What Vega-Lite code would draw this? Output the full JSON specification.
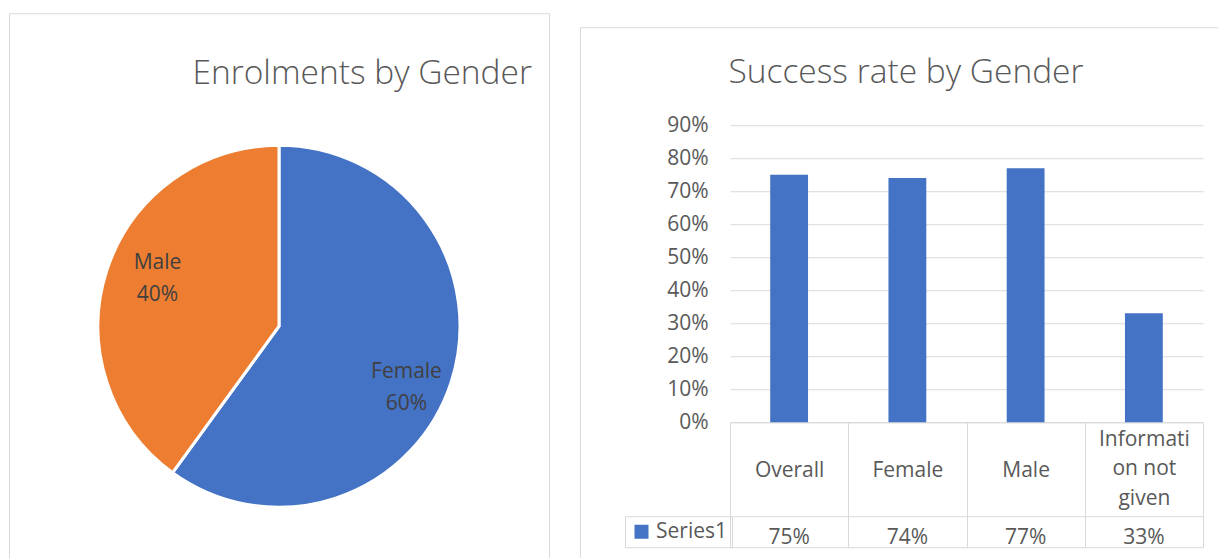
{
  "$schema": "https://vega.github.io/schema/vega-lite/v6.json",
  "padding": {"left": 8, "top": 12, "right": 0, "bottom": 0},
  "background": "white",
  "spacing": 29,
  "center": true,
  "resolve": {"scale": {"color": "independent"}, "legend": {"color": "independent"}},
  "config": {
    "font": "Open Sans",
    "view": {"stroke": "#d9d9d9", "strokeWidth": 1}
  },
  "hconcat": [
    {
      "width": 540,
      "height": 626,
      "view": {"stroke": "#d9d9d9", "strokeWidth": 1},
      "title": {"text": "Enrolments by Gender", "anchor": "end", "dx": -17, "dy": 104, "offset": 0, "baseline": "alphabetic", "fontSize": 33.5, "fontWeight": 300, "color": "#595959", "font": "Open Sans"},
      "data": {"values": [{"gender": "Female", "share": 0.6}, {"gender": "Male", "share": 0.4}]},
      "encoding": {
        "theta": {"field": "share", "type": "quantitative", "stack": true},
        "order": {"field": "gender", "type": "nominal", "sort": "ascending"}
      },
      "resolve": {"scale": {"theta": "independent"}},
      "layer": [
        {
          "mark": {"type": "arc", "outerRadius": 181, "stroke": "white", "strokeWidth": 3},
          "encoding": {
            "color": {"field": "gender", "type": "nominal", "scale": {"domain": ["Female", "Male"], "range": ["#4472C4", "#ED7D31"]}, "legend": null}
          }
        },
        {
          "mark": {"type": "text", "radius": 136, "dx": 3, "dy": -9, "fontSize": 21, "color": "#404040"},
          "encoding": {
            "theta": {"field": "share", "type": "quantitative", "stack": true, "scale": {"range": [0.1, 6.3832]}},
            "text": {"field": "gender"}
          }
        },
        {
          "mark": {"type": "text", "radius": 136, "dx": 3, "dy": 23, "fontSize": 21, "color": "#404040"},
          "encoding": {
            "theta": {"field": "share", "type": "quantitative", "stack": true, "scale": {"range": [0.1, 6.3832]}},
            "text": {"field": "share", "format": ".0%"}
          }
        }
      ]
    },
    {
      "width": 660,
      "height": 598,
      "title": {"text": "Success rate by Gender", "anchor": "middle", "dx": -4, "dy": 89, "offset": 0, "baseline": "alphabetic", "fontSize": 33.5, "fontWeight": 300, "color": "#595959", "font": "Open Sans"},
      "data": {"values": [
        {"group": "Overall", "rate": 0.75},
        {"group": "Female", "rate": 0.74},
        {"group": "Male", "rate": 0.77},
        {"group": "Information not given", "rate": 0.33}
      ]},
      "encoding": {
        "x": {
          "field": "group", "type": "nominal", "sort": null,
          "scale": {"range": [150, 623], "paddingInner": 0, "paddingOuter": 0},
          "axis": {
            "title": null, "orient": "bottom", "offset": -203,
            "domainColor": "#d9d9d9", "tickColor": "#d9d9d9", "tickSize": 125, "tickBand": "extent",
            "labelAngle": 0, "labelBaseline": "middle",
            "labelPadding": {"condition": {"test": "datum.value == 'Information not given'", "value": -108}, "value": -77},
            "labelFontSize": 21, "labelColor": "#595959", "labelLineHeight": 29.5,
            "labelLimit": 0, "labelOverlap": false, "labelBound": false,
            "labelExpr": "datum.value == 'Information not given' ? ['Informati', 'on not', 'given'] : datum.value"
          }
        }
      },
      "layer": [
        {
          "mark": {"type": "bar", "width": {"band": 0.32}},
          "encoding": {
            "y": {
              "field": "rate", "type": "quantitative",
              "scale": {"domain": [-0.61515, 1.19697], "nice": false, "zero": false},
              "axis": {
                "title": null,
                "values": [0, 0.1, 0.2, 0.3, 0.4, 0.5, 0.6, 0.7, 0.8, 0.9, -0.2848, -0.3788],
                "offset": -150, "domain": false, "ticks": false, "labelPadding": 22,
                "labelExpr": "datum.value < 0 ? '' : format(datum.value, '.0%')",
                "labelFontSize": 21, "labelColor": "#595959", "gridColor": "#d9d9d9", "labelOverlap": false
              }
            },
            "y2": {"datum": 0},
            "color": {
              "datum": "Series1", "type": "nominal",
              "scale": {"range": ["#4472C4"]},
              "legend": {
                "title": null, "orient": "none", "legendX": 45, "legendY": 489,
                "symbolType": "square", "symbolSize": 196, "symbolStrokeWidth": 0, "symbolOffset": 1,
                "labelFontSize": 21, "labelColor": "#595959", "labelOffset": 4, "labelFont": "Open Sans",
                "strokeColor": "#d9d9d9", "padding": 5
              }
            }
          }
        },
        {
          "mark": {"type": "text", "fontSize": 21, "color": "#595959"},
          "encoding": {
            "y": {"datum": -0.3505, "type": "quantitative"},
            "text": {"field": "rate", "format": ".0%"}
          }
        }
      ]
    }
  ]
}
